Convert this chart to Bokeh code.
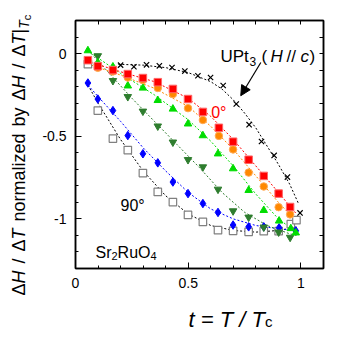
import math
from bokeh.plotting import figure
from bokeh.models import Label, LinearAxis, FixedTicker, Arrow, NormalHead
from bokeh.layouts import column, row
from bokeh.embed import file_html
from bokeh.resources import INLINE

# ---------------- data ----------------
red_t = [0.055, 0.099, 0.166, 0.232, 0.299, 0.365, 0.432, 0.499, 0.565, 0.636, 0.699, 0.768, 0.835, 0.901, 0.952]
red_v = [-0.040, -0.076, -0.100, -0.124, -0.148, -0.173, -0.214, -0.275, -0.353, -0.449, -0.533, -0.642, -0.740, -0.847, -0.928]

orange_t = [0.099, 0.166, 0.232, 0.299, 0.365, 0.432, 0.499, 0.565, 0.636, 0.699, 0.768, 0.835, 0.901, 0.952]
orange_v = [-0.086, -0.108, -0.145, -0.160, -0.208, -0.245, -0.330, -0.402, -0.498, -0.580, -0.720, -0.804, -0.929, -0.973]

lgreen_t = [0.055, 0.099, 0.166, 0.232, 0.299, 0.365, 0.432, 0.499, 0.565, 0.632, 0.699, 0.768, 0.835, 0.903, 0.955, 0.977]
lgreen_v = [0.018, -0.054, -0.080, -0.195, -0.208, -0.283, -0.335, -0.425, -0.496, -0.606, -0.696, -0.827, -0.948, -1.012, -1.058, -1.084]

dgreen_t = [0.099, 0.166, 0.232, 0.299, 0.365, 0.432, 0.499, 0.565, 0.632, 0.699, 0.768, 0.835, 0.901, 0.952]
dgreen_v = [-0.014, -0.164, -0.261, -0.349, -0.439, -0.536, -0.642, -0.686, -0.821, -0.952, -0.990, -1.050, -1.080, -1.112]

blue_t = [0.055, 0.099, 0.166, 0.232, 0.299, 0.365, 0.432, 0.499, 0.565, 0.632, 0.699, 0.768, 0.835, 0.903, 0.977]
blue_v = [-0.178, -0.275, -0.345, -0.496, -0.606, -0.661, -0.777, -0.847, -0.907, -0.961, -1.037, -1.048, -1.048, -1.054, -1.072]

gray_t = [0.055, 0.099, 0.166, 0.232, 0.299, 0.365, 0.432, 0.499, 0.565, 0.632, 0.699, 0.768, 0.835, 0.901, 0.955, 0.980]
gray_v = [-0.064, -0.345, -0.514, -0.584, -0.723, -0.837, -0.898, -0.976, -1.018, -1.068, -1.072, -1.078, -1.074, -1.074, -1.032, -1.008]

upt3_t = [0.200, 0.259, 0.315, 0.372, 0.428, 0.485, 0.543, 0.599, 0.655, 0.713, 0.770, 0.825, 0.881, 0.940, 0.996]
upt3_v = [-0.070, -0.080, -0.068, -0.074, -0.084, -0.106, -0.134, -0.145, -0.193, -0.305, -0.430, -0.532, -0.616, -0.747, -0.964]

# fitted (dashed) curves
red_fit_t = [0.05, 0.2, 0.35, 0.5, 0.6, 0.7, 0.8, 0.9, 0.98]
red_fit_v = [-0.045, -0.11, -0.17, -0.27, -0.38, -0.52, -0.68, -0.84, -0.97]
orange_fit_t = [0.07, 0.2, 0.35, 0.5, 0.6, 0.7, 0.8, 0.9, 0.97]
orange_fit_v = [-0.07, -0.13, -0.21, -0.32, -0.44, -0.58, -0.74, -0.90, -1.00]
lgreen_fit_t = [0.05, 0.2, 0.35, 0.5, 0.6, 0.7, 0.8, 0.9, 0.98]
lgreen_fit_v = [0.02, -0.12, -0.25, -0.40, -0.53, -0.68, -0.85, -1.00, -1.08]
dgreen_fit_t = [0.07, 0.15, 0.25, 0.35, 0.45, 0.55, 0.65, 0.75, 0.85, 0.95, 0.98]
dgreen_fit_v = [0.0, -0.12, -0.27, -0.41, -0.55, -0.69, -0.84, -0.96, -1.04, -1.09, -1.10]
blue_fit_t = [0.055, 0.1, 0.2, 0.3, 0.4, 0.5, 0.6, 0.7, 0.8, 0.9, 0.98]
blue_fit_v = [-0.19, -0.26, -0.41, -0.57, -0.71, -0.84, -0.94, -1.00, -1.04, -1.06, -1.07]
gray_fit_t = [0.055, 0.1, 0.2, 0.3, 0.4, 0.5, 0.6, 0.7, 0.8, 0.9, 0.98]
gray_fit_v = [-0.19, -0.30, -0.52, -0.71, -0.86, -0.97, -1.04, -1.07, -1.08, -1.07, -1.05]
upt3_fit_t = [0.19, 0.3, 0.4, 0.5, 0.6, 0.65, 0.7, 0.75, 0.8, 0.85, 0.9, 0.95, 0.99]
upt3_fit_v = [-0.065, -0.07, -0.085, -0.115, -0.17, -0.215, -0.28, -0.36, -0.45, -0.56, -0.67, -0.79, -0.91]

arrow_tail = (0.822, -0.054)
arrow_head = (0.733, -0.255)

x_major = [0, 0.5, 1]
x_minor = [0.1, 0.2, 0.3, 0.4, 0.6, 0.7, 0.8, 0.9]
x_labels = {0: "0", 0.5: "0.5", 1: "1"}
y_major = [-1, -0.5, 0]
y_minor = [-1.2, -1.1, -0.9, -0.8, -0.7, -0.6, -0.4, -0.3, -0.2, -0.1, 0.1]
y_labels = {-1: "-1", -0.5: "-0.5", 0: "0"}

FONT = "Liberation Sans"
YW = 34  # width of the y-title strip

p = figure(width=338 - YW, height=300, x_range=(0, 1.1), y_range=(-1.3, 0.2),
           output_backend="svg", toolbar_location=None,
           min_border_left=75 - YW, min_border_right=15, min_border_top=20, min_border_bottom=32)
p.xgrid.visible = False
p.ygrid.visible = False
p.outline_line_color = "black"
p.outline_line_width = 1.5


def style_axis(ax, major, minor, labels=None):
    ax.major_tick_in = 6
    ax.major_tick_out = 0
    ax.minor_tick_in = 3
    ax.minor_tick_out = 0
    ax.axis_line_width = 1.5
    ax.axis_line_color = "black"
    ax.major_tick_line_color = "black"
    ax.minor_tick_line_color = "black"
    ax.major_label_text_font = FONT
    ax.major_label_text_color = "black"
    if labels is not None:
        ax.ticker = FixedTicker(ticks=major, minor_ticks=minor)
        ax.major_label_overrides = labels
        ax.major_label_text_font_size = "14px"
        ax.major_label_standoff = 9
    else:
        # mirrored axis: ticks only, no labels
        ax.ticker = FixedTicker(ticks=[], minor_ticks=sorted(major + minor))
        ax.minor_tick_in = 4
        ax.major_label_standoff = 0


style_axis(p.xaxis[0], x_major, x_minor, x_labels)
style_axis(p.yaxis[0], y_major, y_minor, y_labels)
top = LinearAxis()
right = LinearAxis()
style_axis(top, x_major, x_minor)
style_axis(right, y_major, y_minor)
p.add_layout(top, "above")
p.add_layout(right, "right")

DASH = "2 2"
p.line(upt3_fit_t, upt3_fit_v, line_color="black", line_dash=DASH, line_width=1)
p.line(gray_fit_t, gray_fit_v, line_color="black", line_dash=DASH, line_width=1)
p.line(blue_fit_t, blue_fit_v, line_color="blue", line_dash=DASH, line_width=1)
p.line(dgreen_fit_t, dgreen_fit_v, line_color="#2e7d2e", line_dash=DASH, line_width=1)
p.line(lgreen_fit_t, lgreen_fit_v, line_color="#00dd00", line_dash=DASH, line_width=1)
p.line(orange_fit_t, orange_fit_v, line_color="#ff8800", line_dash=DASH, line_width=1)
p.line(red_fit_t, red_fit_v, line_color="red", line_dash=DASH, line_width=1)

p.scatter(gray_t, gray_v, marker="square", size=7.5, fill_color="white", line_color="#808080", line_width=1.2)
p.scatter(blue_t, blue_v, marker="diamond", size=8.5, fill_color="blue", line_color="blue")
p.scatter(dgreen_t, dgreen_v, marker="inverted_triangle", size=7.5, fill_color="#2e7d2e", line_color="#2e7d2e")
p.scatter(lgreen_t, lgreen_v, marker="triangle", size=7.5, fill_color="#00dd00", line_color="#00dd00")
p.scatter(orange_t, orange_v, marker="circle", size=7.5, fill_color="#ff8800", line_color="#ffaa55")
p.scatter(red_t, red_v, marker="square", size=7.5, fill_color="red", line_color="#ff6666")
p.scatter(upt3_t, upt3_v, marker="x", size=7.5, line_color="black", line_width=1.2)

p.add_layout(Arrow(end=NormalHead(size=10, fill_color="black", line_color="black"),
                   x_start=arrow_tail[0], y_start=arrow_tail[1],
                   x_end=arrow_head[0], y_end=arrow_head[1],
                   line_color="black", line_width=1.2))

# ---------------- texts ----------------
W = {'Δ': 668, 'H': 722, 'T': 611, ' ': 278, '/': 278, 'n': 556, 'o': 556, 'r': 333, 'm': 833,
     'a': 556, 'l': 222, 'i': 222, 'z': 500, 'e': 556, 'd': 556, 'b': 556, 'y': 500, '|': 260,
     'c': 500, 't': 278, '=': 584, '(': 333, ')': 333, 'U': 722, 'P': 667, 'S': 667, 'R': 722,
     'u': 556, 'O': 778, '°': 400}


def tw(s, size):
    return sum(W.get(ch, 556) for ch in s) * size / 1000.0


def lab(fig, x, y, text, size, style="normal", color="black", angle=0):
    fig.add_layout(Label(x=x, y=y, x_units="screen", y_units="screen", text=text,
                         text_font=FONT, text_font_size=f"{size}px", text_font_style=style,
                         text_color=color, angle=angle, text_align="left",
                         text_baseline="alphabetic"))


def run(fig, pieces, x0, y0, color="black", vertical=False):
    """pieces: (text, size, style, drop, gap_before)"""
    adv = 0.0
    for text, size, style, drop, gap in pieces:
        adv += gap
        if vertical:
            lab(fig, x0 + drop, y0 + adv, text, size, style, color, math.pi / 2)
        else:
            lab(fig, x0 + adv, y0 - drop, text, size, style, color)
        adv += tw(text, size)


# in-frame texts (coordinates relative to the frame's lower-left corner)
for text, size, style, drop, dx in [("UPt", 17, "normal", 0, 0), ("3", 12, "normal", 5, 29),
                                    ("(", 17, "normal", 0, 41), ("H", 17, "italic", 0, 50),
                                    ("//", 17, "normal", 0, 66), ("c", 17, "italic", 0, 80),
                                    (")", 17, "normal", 0, 89)]:
    lab(p, 145 + dx, 212 - drop, text, size, style)
lab(p, 135.7, 156.3, "0°", 16, color="red")
lab(p, 45, 63, "90°", 16)
run(p, [("Sr", 16, "normal", 0, 0), ("2", 11, "normal", 4, 0), ("RuO", 16, "normal", 0, 0),
        ("4", 11, "normal", 4, 0)], 20, 16.3)

# y-axis title strip (full height)
yfig = figure(width=YW, height=338, output_backend="svg", toolbar_location=None,
              x_axis_type=None, y_axis_type=None, min_border=0, x_range=(0, 1), y_range=(0, 1))
yfig.outline_line_color = None
yfig.xgrid.visible = False
yfig.ygrid.visible = False
SP = 7
run(yfig, [("Δ", 18, "normal", 0, 0), ("H", 18, "italic", 0, 0), ("/", 18, "normal", 0, SP),
           ("Δ", 18, "normal", 0, SP), ("T", 18, "italic", 0, 0), ("normalized", 18, "normal", 0, SP),
           ("by", 18, "normal", 0, SP), ("Δ", 18, "normal", 0, SP), ("H", 18, "italic", 0, 0),
           ("/", 18, "normal", 0, SP), ("Δ", 18, "normal", 0, SP), ("T", 18, "italic", 0, 0),
           ("|", 18, "normal", 0, 0), ("T", 14, "italic", 5, 0), ("c", 11, "normal", 8, 0)],
    18.3, 43, vertical=True)

# x-axis title strip
xfig = figure(width=338 - YW, height=38, output_backend="svg", toolbar_location=None,
              x_axis_type=None, y_axis_type=None, min_border=0, x_range=(0, 1), y_range=(0, 1))
xfig.outline_line_color = None
xfig.xgrid.visible = False
xfig.ygrid.visible = False
run(xfig, [("t = T / T", 22, "italic", 0, 0), ("c", 15, "normal", 2, 0)], 155 - YW - 8, 19.3)

layout = row(yfig, column(p, xfig, spacing=0), spacing=0)
open("out.html", "w").write(file_html(layout, INLINE))
